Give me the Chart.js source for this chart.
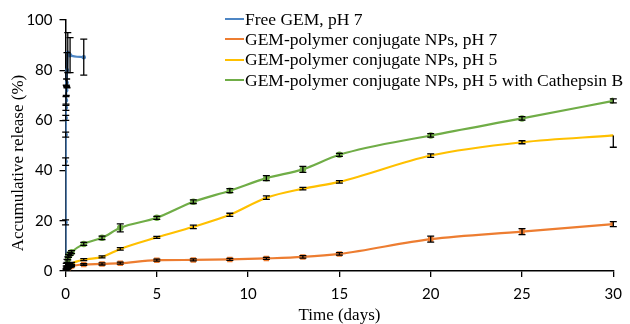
<!DOCTYPE html>
<html>
<head>
<meta charset="utf-8">
<script src="https://cdn.jsdelivr.net/npm/chart.js@4"></script>
<style>
  html, body { margin: 0; padding: 0; background: #fff; }
  #wrap { position: relative; width: 630px; height: 324px; }
  #legend {
    position: absolute; left: 225px; top: 9px;
    font-family: "Liberation Serif", serif; font-size: 17.5px; color: #000;
  }
  .row { height: 20.3px; display: flex; align-items: center; white-space: nowrap; }
  .swatch { display: inline-block; width: 19px; height: 2px; margin-right: 1px; }
</style>
</head>
<body>
<div id="wrap">
  <canvas id="releaseChart" width="630" height="324"></canvas>
  <div id="legend"></div>
</div>
<script>
// release data (days, %)
const freeDays = [0, 0.0035, 0.0069, 0.0104, 0.0139, 0.0208, 0.0278, 0.0417, 0.0625, 0.083, 0.125, 0.25, 1];
const freeGem  = [0, 19.4, 43.6, 54.3, 61, 65, 68, 72, 75, 80, 87, 86, 85.2];
const freeErr  = [0, 1, 1.5, 1, 1, 1, 1.5, 2, 1.5, 7, 8, 7, 7.2];

const npDays = [0, 0.0417, 0.083, 0.125, 0.167, 0.25, 0.333, 1, 2, 3, 5, 7, 9, 11, 13, 15, 20, 25, 30];
const ph7    = [0, 0.6, 0.9, 1.2, 1.5, 1.8, 2.0, 2.6, 2.8, 3.1, 4.3, 4.4, 4.6, 5.0, 5.6, 6.8, 12.7, 15.7, 18.7];
const ph7Err = [0, 0.3, 0.3, 0.3, 0.3, 0.3, 0.3, 0.3, 0.4, 0.4, 0.4, 0.4, 0.4, 0.4, 0.5, 0.5, 1.2, 1.2, 1.0];
const ph5    = [0, 0.8, 1.3, 1.8, 2.2, 2.6, 3.0, 4.5, 5.6, 8.8, 13.4, 17.6, 22.4, 29.2, 32.8, 35.5, 46, 51.3, 54];
const ph5Err = [0, 0.3, 0.3, 0.3, 0.3, 0.3, 0.4, 0.4, 0.4, 0.5, 0.4, 0.7, 0.6, 0.7, 0.5, 0.5, 0.7, 0.6, [4.7, 0]];
const cathB    = [0, 2.5, 4.0, 5.0, 6.0, 6.8, 7.5, 10.8, 13.2, 17.2, 21.2, 27.6, 32, 37, 40.5, 46.3, 54, 60.8, 67.8];
const cathBErr = [0, 0.5, 0.6, 0.6, 0.6, 0.6, 0.6, 0.6, 0.7, 1.6, 0.6, 0.7, 0.8, 1.0, 1.2, 0.6, 0.7, 0.7, 0.8];

const xTicks = [0, 5, 10, 15, 20, 25, 30];
const yTicks = [0, 20, 40, 60, 80, 100];

const seriesNames = [
  "Free GEM, pH 7",
  "GEM-polymer conjugate NPs, pH 7",
  "GEM-polymer conjugate NPs, pH 5",
  "GEM-polymer conjugate NPs, pH 5 with Cathepsin B"
];
const seriesColors = ["#4E86C4", "#ED7D31", "#FFC000", "#70AD47"];

function pts(xs, ys) {
  return xs.map((x, i) => ({ x: x, y: ys[i] }));
}

// black error bars drawn through the y scale
const errorBars = {
  id: "errorBars",
  afterDatasetsDraw(chart) {
    const ctx = chart.ctx;
    const yScale = chart.scales.y;
    ctx.save();
    ctx.strokeStyle = "#000";
    ctx.lineWidth = 1.3;
    chart.data.datasets.forEach((ds, i) => {
      const meta = chart.getDatasetMeta(i);
      meta.data.forEach((pt, j) => {
        const e = ds.errors[j];
        if (!e) return;
        const lo = Array.isArray(e) ? e[0] : e;
        const hi = Array.isArray(e) ? e[1] : e;
        const v = ds.data[j].y;
        const yTop = yScale.getPixelForValue(v + hi);
        const yBot = yScale.getPixelForValue(v - lo);
        ctx.beginPath();
        ctx.moveTo(pt.x, yTop);
        ctx.lineTo(pt.x, yBot);
        if (hi > 0) { ctx.moveTo(pt.x - 3.5, yTop); ctx.lineTo(pt.x + 3.5, yTop); }
        if (lo > 0) { ctx.moveTo(pt.x - 3.5, yBot); ctx.lineTo(pt.x + 3.5, yBot); }
        ctx.stroke();
      });
    });
    ctx.restore();
  }
};

// rotated y axis title, placed like the original
const yTitle = {
  id: "yTitle",
  afterDraw(chart) {
    const ctx = chart.ctx;
    ctx.save();
    ctx.translate(19, 163);
    ctx.rotate(-Math.PI / 2);
    ctx.font = '17px "Liberation Serif", serif';
    ctx.fillStyle = "#000";
    ctx.textAlign = "center";
    ctx.textBaseline = "middle";
    ctx.fillText("Accumulative release (%)", 0, 0);
    ctx.restore();
  }
};

function lineSet(label, data, errors, color, style, radius, order) {
  return {
    label: label,
    data: data,
    errors: errors,
    borderColor: color,
    backgroundColor: color,
    borderWidth: 2.2,
    pointStyle: style,
    pointRadius: radius,
    pointBorderColor: color,
    pointBackgroundColor: color,
    pointBorderWidth: 1.5,
    cubicInterpolationMode: "monotone",
    fill: false,
    order: order
  };
}

const ctx = document.getElementById("releaseChart").getContext("2d");
const releaseChart = new Chart(ctx, {
  type: "line",
  data: {
    datasets: [
      lineSet(seriesNames[0], pts(freeDays, freeGem), freeErr, seriesColors[0], "circle", 1.5, 3),
      lineSet(seriesNames[1], pts(npDays, ph7), ph7Err, seriesColors[1], "rect", 2.8, 2),
      lineSet(seriesNames[2], pts(npDays, ph5), ph5Err, seriesColors[2], "line", 3, 1),
      lineSet(seriesNames[3], pts(npDays, cathB), cathBErr, seriesColors[3], "circle", 2.5, 0)
    ]
  },
  options: {
    responsive: false,
    animation: false,
    layout: { padding: { left: 0, right: 14, top: 20, bottom: 0 } },
    plugins: {
      legend: { display: false },
      tooltip: { enabled: false }
    },
    scales: {
      x: {
        type: "linear",
        min: 0,
        max: 30,
        afterBuildTicks: (s) => { s.ticks = xTicks.map(v => ({ value: v })); },
        afterFit: (s) => { s.height = 53; },
        ticks: {
          color: "#000",
          padding: 8,
          font: { family: "Lato", size: 15 }
        },
        grid: { drawOnChartArea: false, drawTicks: true, tickLength: 6, color: "#000", lineWidth: 1.3 },
        border: { display: true, color: "#000", width: 1.5 },
        title: {
          display: true,
          text: "Time (days)",
          color: "#000",
          padding: { top: 0, bottom: 0 },
          font: { family: "Liberation Serif", size: 17, lineHeight: 1 }
        }
      },
      y: {
        min: 0,
        max: 100,
        afterBuildTicks: (s) => { s.ticks = yTicks.map(v => ({ value: v })); },
        afterFit: (s) => { s.width = 65.5; },
        ticks: {
          color: "#000",
          padding: 7,
          font: { family: "Lato", size: 15 }
        },
        grid: { drawOnChartArea: false, drawTicks: true, tickLength: 6, color: "#000", lineWidth: 1.3 },
        border: { display: true, color: "#000", width: 1.5 }
      }
    }
  },
  plugins: [errorBars, yTitle]
});

// legend as html, same order as the original
const legend = document.getElementById("legend");
seriesNames.forEach((name, i) => {
  const row = document.createElement("div");
  row.className = "row";
  const sw = document.createElement("span");
  sw.className = "swatch";
  sw.style.background = seriesColors[i];
  row.appendChild(sw);
  row.appendChild(document.createTextNode(name));
  legend.appendChild(row);
});
</script>
</body>
</html>
